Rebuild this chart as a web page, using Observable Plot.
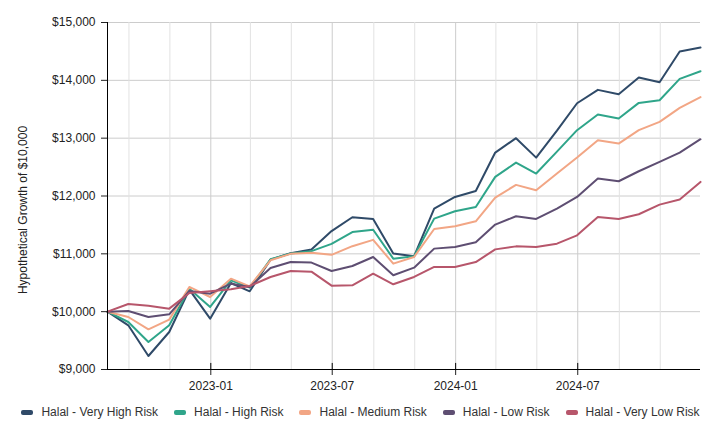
<!DOCTYPE html>
<html>
<head>
<meta charset="utf-8">
<script src="https://cdn.jsdelivr.net/npm/d3@7"></script>
<script src="https://cdn.jsdelivr.net/npm/@observablehq/plot@0.6"></script>
<style>
  html, body { margin: 0; padding: 0; background: #fff; }
  body { width: 717px; height: 429px; overflow: hidden; font-family: "Liberation Sans", Arial, sans-serif; }
  #legend { display: flex; justify-content: center; align-items: center; height: 34px; font-size: 12px; color: #333; padding-left: 4px; }
  .item { display: flex; align-items: center; margin: 0 8px; }
  .sw { width: 12px; height: 5px; border-radius: 2px; margin-right: 8px; }
</style>
</head>
<body>
<div id="chart"></div>
<div id="legend"></div>
<script>
const dates = ["2022-07-31","2022-08-31","2022-09-30","2022-10-31","2022-11-30","2022-12-31",
  "2023-01-31","2023-02-28","2023-03-31","2023-04-30","2023-05-31","2023-06-30",
  "2023-07-31","2023-08-31","2023-09-30","2023-10-31","2023-11-30","2023-12-31",
  "2024-01-31","2024-02-29","2024-03-31","2024-04-30","2024-05-31","2024-06-30",
  "2024-07-31","2024-08-31","2024-09-30","2024-10-31","2024-11-30","2024-12-31"];

const seriesNames = ["Halal - Very High Risk","Halal - High Risk","Halal - Medium Risk","Halal - Low Risk","Halal - Very Low Risk"];
const seriesColors = ["#2f4a68","#2fa58a","#f2a685","#5e4e72","#b7566b"];

const veryHigh = [10000,9764,9233,9648,10381,9879,10496,10352,10900,11010,11076,11394,11632,11603,11006,10957,11782,11983,12087,12751,13000,12664,13130,13604,13835,13760,14048,13967,14498,14567];
const high = [10000,9821,9475,9764,10398,10081,10542,10415,10905,11006,11046,11172,11376,11417,10917,10957,11609,11736,11811,12330,12578,12388,12768,13138,13408,13339,13610,13656,14025,14158];
const medium = [10000,9908,9694,9862,10427,10254,10571,10438,10888,11000,11017,10983,11132,11242,10830,10945,11430,11476,11563,11973,12192,12099,12388,12665,12965,12907,13138,13282,13524,13709];
const low = [10000,10012,9908,9954,10358,10311,10484,10427,10755,10858,10848,10704,10790,10945,10629,10761,11090,11119,11200,11506,11650,11604,11782,11984,12301,12255,12428,12590,12751,12982];
const veryLow = [10000,10133,10104,10052,10323,10352,10386,10444,10600,10704,10692,10450,10455,10657,10473,10600,10773,10773,10858,11077,11129,11118,11176,11320,11638,11604,11684,11851,11938,12244];

const yTicks = [9000,10000,11000,12000,13000,14000,15000];
const majorTickLabels = ["2023-01","2023-07","2024-01","2024-07"];
const minorTickLabels = ["2022-09","2022-11","2023-03","2023-05","2023-09","2023-11","2024-03","2024-05","2024-09","2024-11"];
const yTitle = "Hypothetical Growth of $10,000";

const parse = d3.utcParse("%Y-%m-%d");
const parseMonth = d3.utcParse("%Y-%m");
const allSeries = [veryHigh, high, medium, low, veryLow];
const data = [];
allSeries.forEach((vals, i) => vals.forEach((v, j) => data.push({date: parse(dates[j]), value: v, series: seriesNames[i]})));
const majorTicks = majorTickLabels.map(parseMonth);
const minorTicks = minorTickLabels.map(parseMonth);
const x0 = parse(dates[0]), x1 = parse(dates[dates.length - 1]);

const chart = Plot.plot({
  width: 717,
  height: 395,
  marginLeft: 107,
  marginRight: 17,
  marginTop: 22,
  marginBottom: 26,
  style: {fontFamily: "'Liberation Sans', Arial, sans-serif", fontSize: "12px", color: "#222", background: "#fff"},
  x: {type: "utc", domain: [x0, x1]},
  y: {domain: [9000, 15000]},
  color: {domain: seriesNames, range: seriesColors},
  marks: [
    Plot.ruleY(yTicks, {stroke: "#cccccc", strokeWidth: 1}),
    Plot.ruleX(minorTicks, {stroke: "#e2e2e2", strokeWidth: 1}),
    Plot.ruleX(majorTicks, {stroke: "#cccccc", strokeWidth: 1}),
    Plot.lineY(data, {x: "date", y: "value", z: "series", stroke: "series", strokeWidth: 2}),
    Plot.axisY({ticks: yTicks, tickFormat: d3.format("$,"), tickSize: 6, tickPadding: 6, label: null}),
    Plot.text([yTitle], {frameAnchor: "left", textAnchor: "middle", rotate: -90, dx: -84, dy: 14, fill: "#222", fontSize: 12}),
    Plot.axisX({ticks: majorTicks, tickFormat: d3.utcFormat("%Y-%m"), tickSize: 6, tickPadding: 6, label: null}),
    Plot.ruleX(majorTicks, {y1: 9000, y2: 9105, stroke: "#000"}),
    Plot.ruleY([9000], {stroke: "#000"}),
    Plot.ruleX([x0], {stroke: "#000"})
  ]
});
document.getElementById("chart").appendChild(chart);

const legend = document.getElementById("legend");
seriesNames.forEach((n, i) => {
  const it = document.createElement("div");
  it.className = "item";
  it.innerHTML = `<span class="sw" style="background:${seriesColors[i]}"></span><span>${n}</span>`;
  legend.appendChild(it);
});
</script>
</body>
</html>
